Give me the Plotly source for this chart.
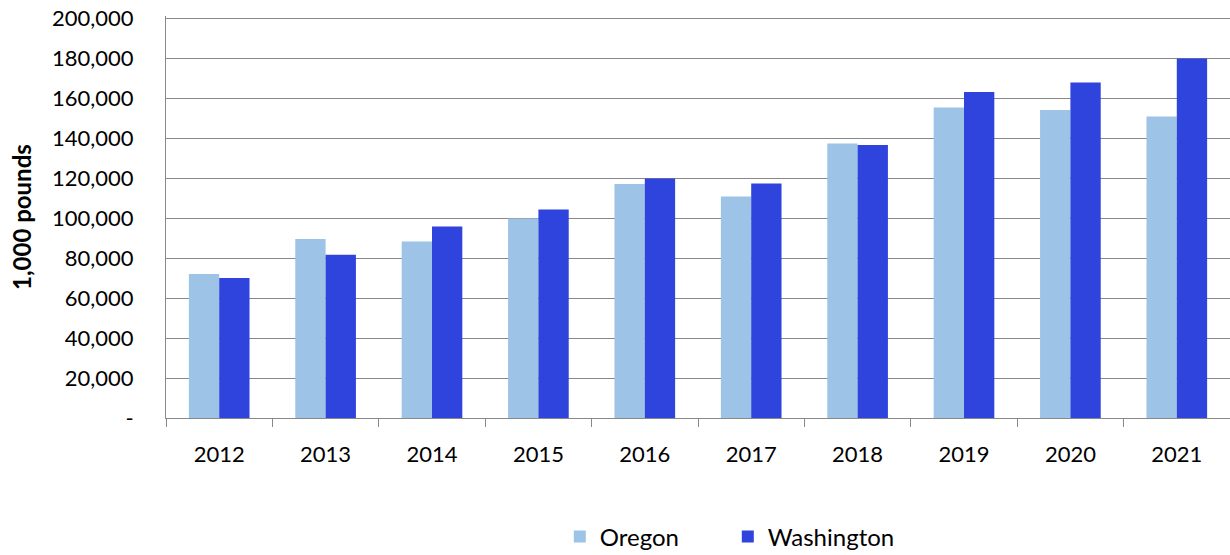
import plotly.graph_objects as go

years = ["2012", "2013", "2014", "2015", "2016", "2017", "2018", "2019", "2020", "2021"]
oregon = [72000, 89500, 88300, 99700, 117000, 110800, 137300, 155300, 154000, 150800]
washington = [70000, 81600, 95700, 104300, 119800, 117300, 136500, 163000, 167800, 179800]
y_tickvals = [0, 20000, 40000, 60000, 80000, 100000, 120000, 140000, 160000, 180000, 200000]
y_ticktext = ["-", "20,000", "40,000", "60,000", "80,000", "100,000", "120,000",
              "140,000", "160,000", "180,000", "200,000"]

FONT = "Lato, 'Open Sans', sans-serif"

fig = go.Figure()
fig.add_trace(go.Bar(name="Oregon", x=years, y=oregon, marker=dict(color="#9DC3E6", line=dict(width=0))))
fig.add_trace(go.Bar(name="Washington", x=years, y=washington, marker=dict(color="#2F43DD", line=dict(width=0))))

fig.update_layout(
    width=1230, height=555,
    margin=dict(l=166, r=0, t=16, b=137, autoexpand=False),
    paper_bgcolor="white", plot_bgcolor="white",
    barmode="group", bargap=0.43, bargroupgap=0,
    font=dict(family=FONT, size=22, color="#000000"),
    showlegend=True,
    legend=dict(orientation="h", x=0.528, xanchor="center", y=-0.296, yanchor="middle",
                font=dict(size=24), entrywidth=123, entrywidthmode="pixels",
                itemsizing="constant"),
    xaxis=dict(type="category", tickson="boundaries", ticks="outside", ticklen=8,
               tickcolor="#898989", showline=True, linecolor="#898989", linewidth=1,
               showgrid=False, tickfont=dict(size=22), ticklabelstandoff=17,
               automargin=False),
    yaxis=dict(range=[0, 201000], tickvals=y_tickvals, ticktext=y_ticktext,
               showgrid=True, gridcolor="#898989", gridwidth=1,
               showline=True, linecolor="#898989", linewidth=1,
               ticks="", tickfont=dict(size=22), ticklabelstandoff=27, zeroline=False,
               ticklabeloverflow="allow", automargin=False),
)
fig.add_annotation(text="<b>1,000 pounds</b>", xref="paper", yref="paper",
                   x=-0.1363, y=0.5, xanchor="center", yanchor="middle",
                   textangle=-90, showarrow=False, font=dict(size=24, family=FONT))

fig.write_html("out.html", config={"displayModeBar": False},
               post_script="document.body.style.margin='0';")
